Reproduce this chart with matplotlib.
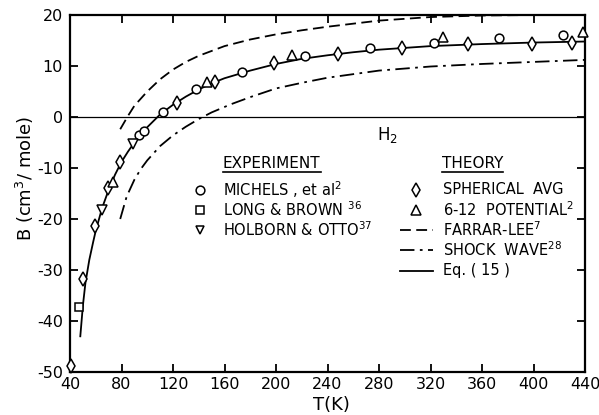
import matplotlib
matplotlib.use("Agg")
import matplotlib.pyplot as plt
import numpy as np

plt.rcParams['font.family'] = ['DejaVu Sans']
plt.rcParams['axes.unicode_minus'] = False
plt.rcParams['mathtext.fontset'] = 'dejavusans'

# Second virial coefficient of H2: B (cm^3/mole) against T (K)

# experiment
michels_T = [93.8, 97.7, 112.5, 137.9, 173.3, 222.5, 273.0, 323.0, 373.4, 423.0]
michels_B = [-3.5, -2.7, 0.9, 5.4, 8.9, 12.0, 13.5, 14.6, 15.4, 16.1]
long_brown_T = [47.0]
long_brown_B = [-37.3]
holborn_T = [64.6, 89.2]
holborn_B = [-18.2, -5.2]

# theory, points
spherical_T = [40.5, 49.8, 59.6, 69.8, 78.8, 122.8, 152.6, 198.4, 248.4, 297.6, 348.9, 399.0, 429.7]
spherical_B = [-48.8, -31.7, -21.3, -14.0, -8.8, 2.8, 6.9, 10.5, 12.4, 13.5, 14.3, 14.4, 14.6]
lj612_T = [73.6, 146.2, 212.2, 330.0, 438.2]
lj612_B = [-12.7, 6.9, 12.2, 15.6, 16.6]

# theory, curves
eq15_T = [48, 50, 52, 55, 58, 60, 65, 70, 75, 80, 85, 90, 95, 100, 110, 120, 130, 140, 150,
          160, 180, 200, 220, 240, 260, 280, 320, 360, 400, 440]
eq15_B = [-43.0, -37.0, -32.5, -28.0, -24.5, -22.3, -17.8, -14.3, -11.3, -8.8, -6.8, -5.0, -3.4,
          -2.0, 0.5, 2.4, 4.0, 5.4, 6.6, 7.6, 9.1, 10.4, 11.4, 12.1, 12.7, 13.2, 13.9, 14.3, 14.6, 14.8]
farrar_T = [79, 85, 90, 100, 110, 120, 130, 140, 160, 180, 200, 220, 240, 280, 320, 360, 400, 440]
farrar_B = [-2.4, 0.2, 2.2, 5.0, 7.4, 9.3, 10.8, 12.0, 13.9, 15.2, 16.2, 17.0, 17.7, 18.9, 19.6,
            19.9, 20.0, 20.0]
shock_T = [79, 84, 90, 95, 100, 110, 120, 130, 140, 150, 165, 180, 200, 220, 240, 280, 320, 360,
           400, 440]
shock_B = [-20.0, -15.6, -12.3, -10.2, -8.5, -5.7, -3.6, -1.9, -0.4, 0.9, 2.5, 3.9, 5.6, 6.7, 7.7,
           9.1, 9.9, 10.4, 10.8, 11.2]

x_ticks = np.arange(40, 441, 40)
y_ticks = np.arange(-50, 21, 10)

fig = plt.figure(figsize=(5.99, 4.15), dpi=100)
ax = fig.add_axes([70 / 599, 1 - 372 / 415, 515 / 599, 357 / 415])

lw = 1.3
dash_style = (0, (6, 3))
dashdot_style = (0, (8, 3, 1.5, 3))

ax.axhline(0, color='black', lw=0.9, zorder=1)
ax.plot(eq15_T, eq15_B, color='black', lw=lw, zorder=2)
ax.plot(farrar_T, farrar_B, color='black', lw=lw, ls=dash_style, zorder=2)
ax.plot(shock_T, shock_B, color='black', lw=lw, ls=dashdot_style, zorder=2)

mk = dict(ls='none', mfc='white', mec='black', mew=1.1, clip_on=False, zorder=3)
ax.plot(michels_T, michels_B, marker='o', ms=6.3, **mk)
ax.plot(long_brown_T, long_brown_B, marker='s', ms=6.3, **mk)
ax.plot(holborn_T, holborn_B, marker='v', ms=6.8, **mk)
ax.plot(spherical_T, spherical_B, marker='d', ms=7.5, **mk)
ax.plot(lj612_T, lj612_B, marker='^', ms=6.8, **mk)

ax.set_xlim(40, 440)
ax.set_ylim(-50, 20)
ax.set_xticks(x_ticks)
ax.set_yticks(y_ticks)
ax.tick_params(direction='in', length=6, width=1.3, labelsize=11.5, top=True, right=True)
ax.tick_params(axis='x', pad=3.5)
ax.tick_params(axis='y', pad=5)
for s in ax.spines.values():
    s.set_linewidth(1.6)

fig.text(25 / 599, 1 - 178 / 415, r'B (cm$^3$/ mole)', rotation=90,
         ha='center', va='center', fontsize=13)
fig.text(331 / 599, 1 - 405 / 415, 'T(K)', ha='center', va='center', fontsize=13)

ax.text(0.616, 0.664, r'H$_2$', transform=ax.transAxes, ha='center', va='center', fontsize=12)

# legend drawn by hand
tsize = 10.5
rows = [0.510, 0.454, 0.398, 0.342, 0.283]
hdr_exp = ax.text(0.297, 0.585, 'EXPERIMENT', transform=ax.transAxes, va='center', fontsize=11)
hdr_th = ax.text(0.722, 0.585, 'THEORY', transform=ax.transAxes, va='center', fontsize=11)

exp_entries = [('o', r'MICHELS , et al$^2$'), ('s', r'LONG & BROWN $^{36}$'),
               ('v', r'HOLBORN & OTTO$^{37}$')]
for (m, label), y in zip(exp_entries, rows):
    ax.plot([0.252], [y], marker=m, ms=6.3, ls='none', mfc='white', mec='black', mew=1.1,
            transform=ax.transAxes, clip_on=False)
    ax.text(0.297, y, label, transform=ax.transAxes, va='center', fontsize=tsize)

th_markers = [('d', r'SPHERICAL  AVG'), ('^', r'6-12  POTENTIAL$^2$')]
for (m, label), y in zip(th_markers, rows[:2]):
    ax.plot([0.672], [y], marker=m, ms=7, ls='none', mfc='white', mec='black', mew=1.1,
            transform=ax.transAxes, clip_on=False)
    ax.text(0.724, y, label, transform=ax.transAxes, va='center', fontsize=tsize)

th_lines = [(dash_style, r'FARRAR-LEE$^7$'), (dashdot_style, r'SHOCK  WAVE$^{28}$'),
            ('-', 'Eq. ( 15 )')]
for (style, label), y in zip(th_lines, rows[2:]):
    ax.plot([0.641, 0.705], [y, y], color='black', lw=lw, ls=style, transform=ax.transAxes)
    ax.text(0.724, y, label, transform=ax.transAxes, va='center', fontsize=tsize)

# underline the two headers
fig.canvas.draw()
inv = ax.transAxes.inverted()
for t in (hdr_exp, hdr_th):
    bb = t.get_window_extent()
    (x0, y0), (x1, _) = inv.transform([[bb.x0, bb.y0], [bb.x1, bb.y1]])
    ax.plot([x0, x1], [y0 - 0.005, y0 - 0.005], color='black', lw=1.2, transform=ax.transAxes)

fig.savefig('out.png', dpi=100)
